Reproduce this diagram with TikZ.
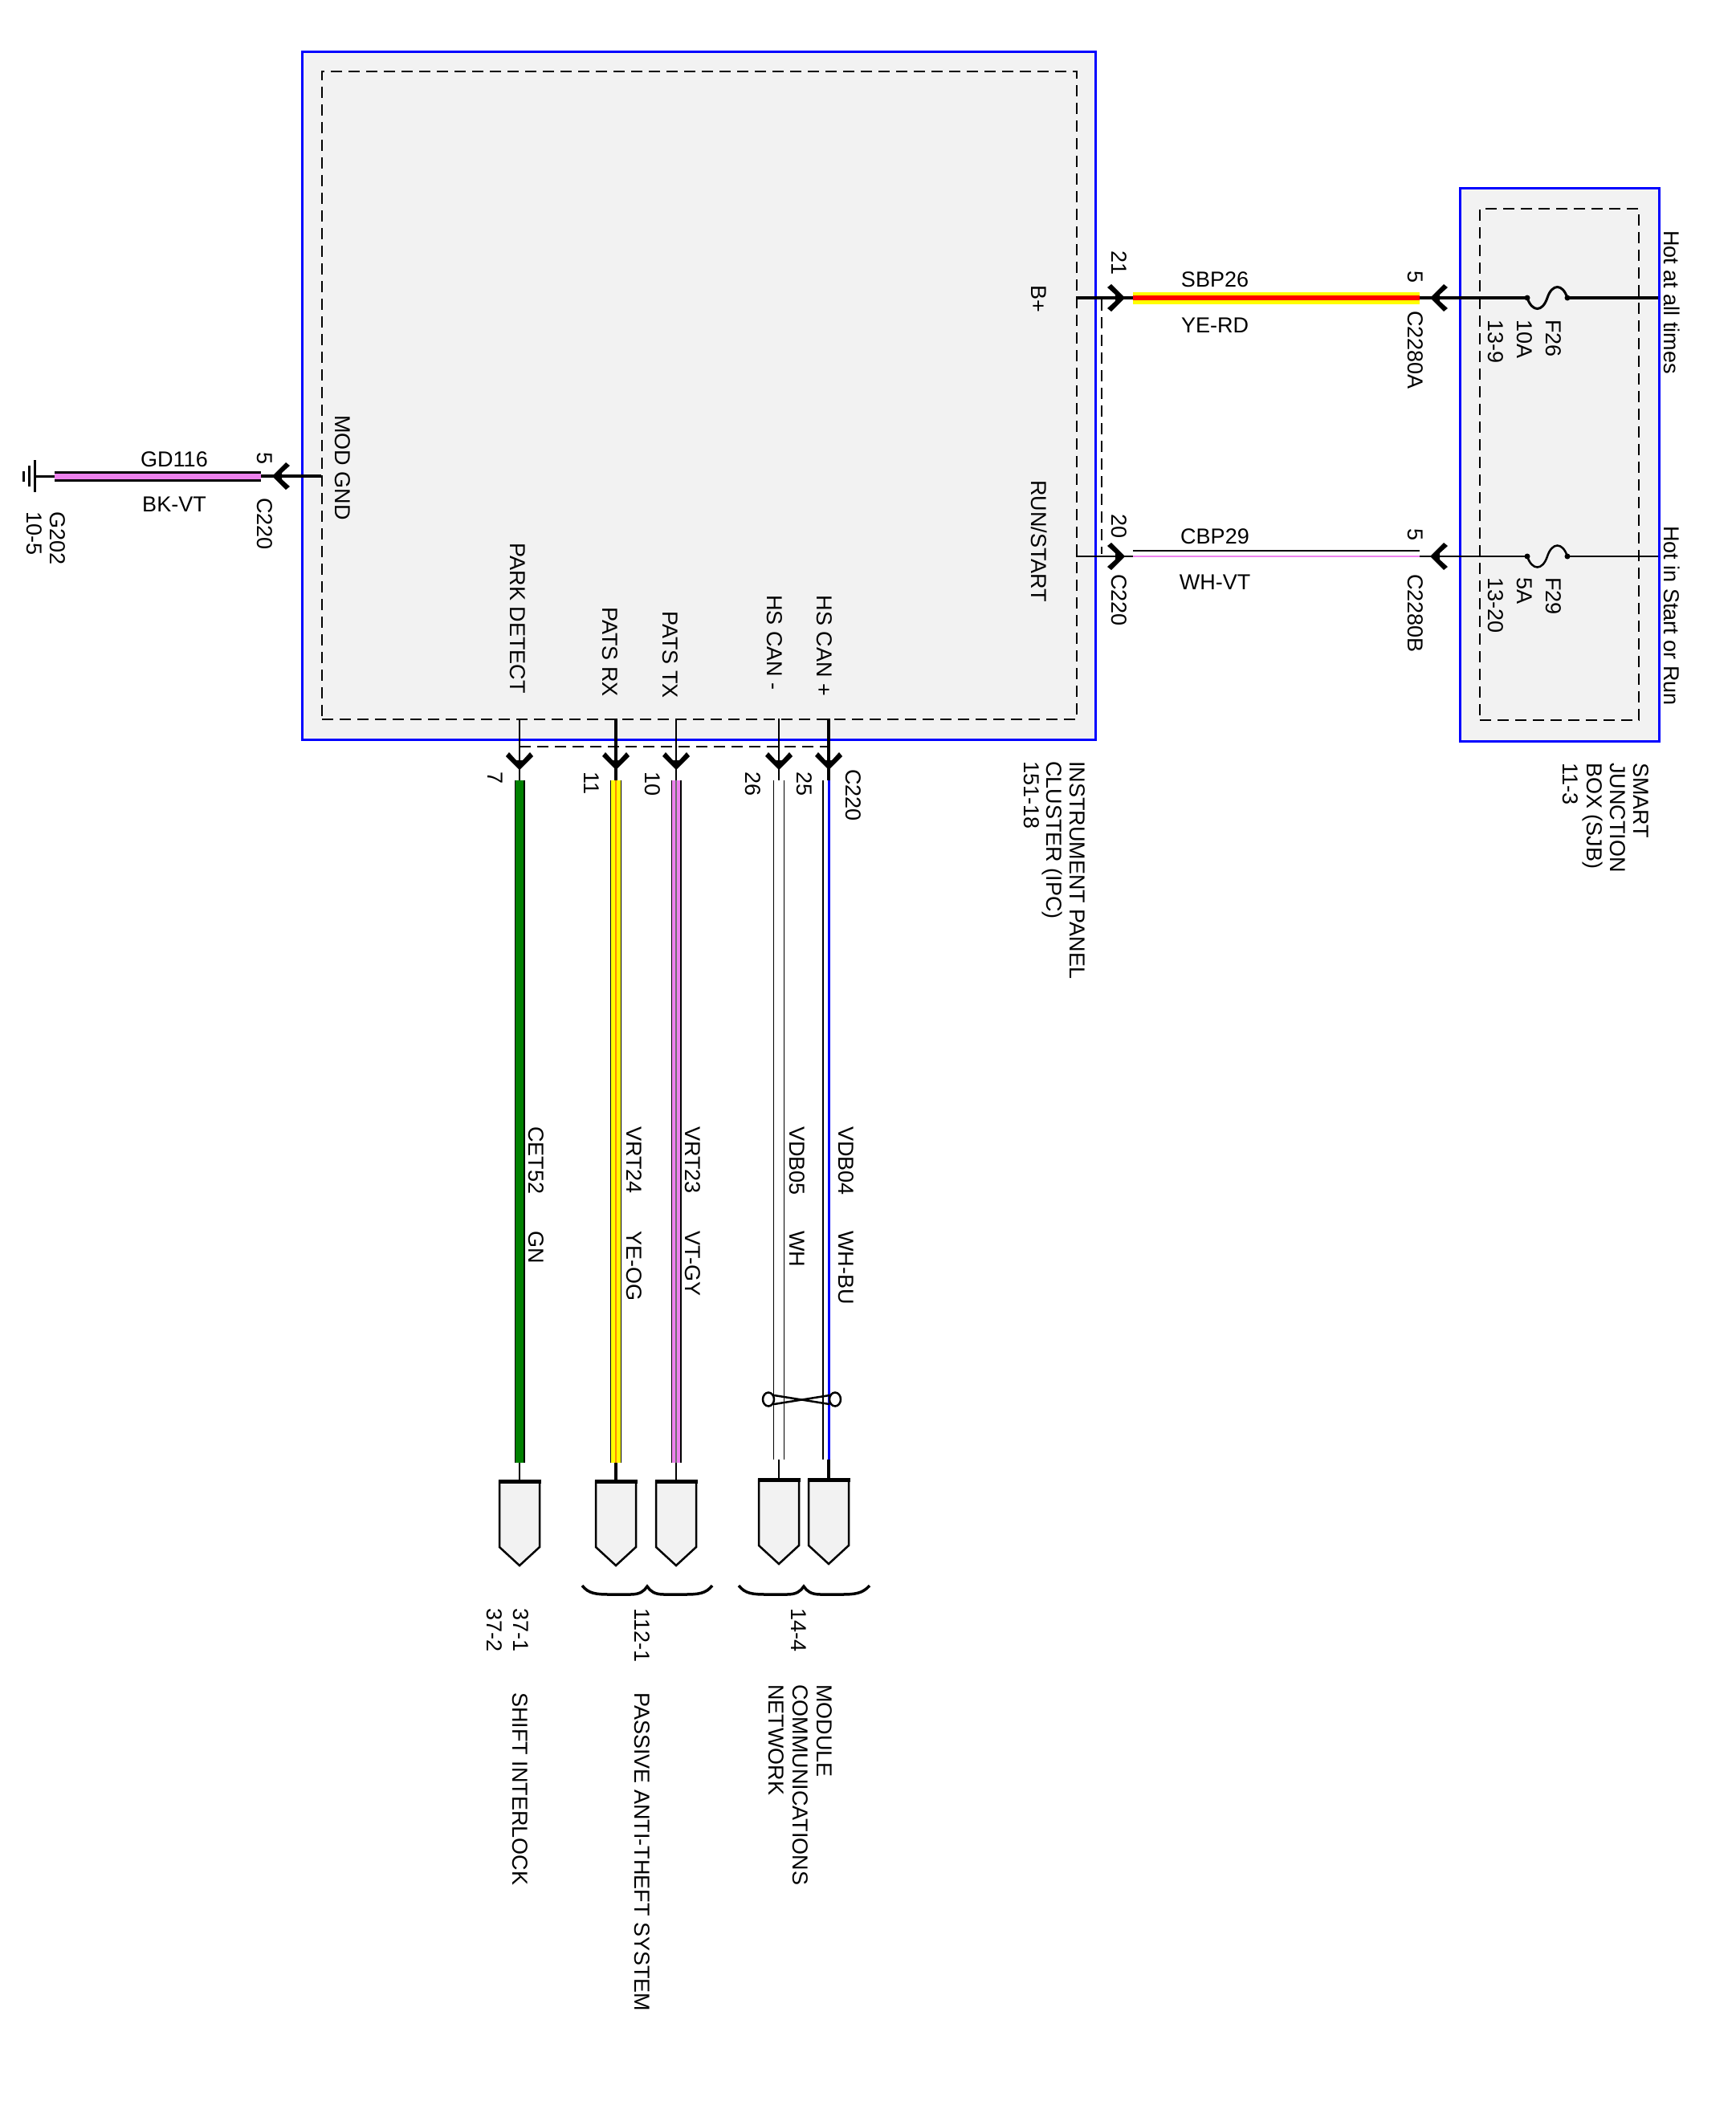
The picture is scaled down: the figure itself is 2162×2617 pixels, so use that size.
\documentclass[tikz,border=0pt]{standalone}
\usepackage{fontspec}
\setmainfont{Liberation Sans}
\definecolor{boxgray}{HTML}{F2F2F2}
\definecolor{wvt}{HTML}{EE82EE}
\definecolor{wgn}{HTML}{008000}
\definecolor{wye}{HTML}{FFFF00}
\definecolor{wrd}{HTML}{FF0000}
\definecolor{wog}{HTML}{FF8C00}
\definecolor{wbu}{HTML}{0000FF}
\definecolor{wgy}{HTML}{707070}
\begin{document}
\begin{tikzpicture}[x=1pt,y=-1pt,
  lbl/.style={font=\fontsize{27}{29}\selectfont, inner sep=0pt},
  vlbl/.style={lbl, rotate=-90, anchor=west},
  plbl/.style={lbl, rotate=-90, anchor=east},
  compbox/.style={draw=wbu, line width=3pt, fill=boxgray, inner sep=0pt, anchor=north west},
  dashframe/.style={draw=black, line width=2pt, dash pattern=on 14pt off 8pt, inner sep=0pt, anchor=north west},
  dashline/.style={draw=black, line width=2pt, dash pattern=on 14pt off 8pt},
  thinw/.style={line width=2pt},
  thickw/.style={line width=4pt},
  conarrow/.pic={\fill (4,0) -- (-13,-17) -- (-18,-13) -- (-8,-4) -- (-8,4) -- (-18,13) -- (-13,17) -- cycle;},
  plug/.pic={\draw[line width=2.5pt, fill=boxgray] (-25,0) -- (25,0) -- (25,82) -- (0,105) -- (-25,82) -- cycle;
             \draw[line width=5pt] (-26.5,0) -- (26.5,0);}
]
\useasboundingbox (0,0) rectangle (2162,2617);

% ---------- components ----------
\node[compbox, minimum width=988pt, minimum height=857pt] (ipc) at (375,63) {};
\node[dashframe, minimum width=940pt, minimum height=807pt] (ipcin) at (400,88) {};
\node[compbox, minimum width=248pt, minimum height=689pt] (sjb) at (1817,233) {};
\node[dashframe, minimum width=198pt, minimum height=637pt] (sjbin) at (1842,259) {};

% ---------- ground circuit ----------
\coordinate (gnd) at (43,593);
\coordinate (gw1) at (68,593);
\coordinate (gw2) at (325,593);
\coordinate (garr) at (343,593);
\coordinate (gpin) at (400,593);
\draw[line width=3pt] (43,573) -- (43,613) (36,580) -- (36,606) (29,587) -- (29,600);
\draw[line width=3pt] (gnd) -- (gw1);
\draw[line width=13pt] (gw1) -- (gw2);
\draw[line width=7pt, wvt] (gw1) -- (gw2);
\draw[line width=3.5pt] (gw2) -- (gpin);
\pic[rotate=180] at (garr) {conarrow};

% ---------- B+ circuit ----------
\coordinate (bp) at (1340,371);
\coordinate (bparr) at (1397,371);
\coordinate (w1s) at (1411,371);
\coordinate (w1e) at (1768,371);
\coordinate (s1arr) at (1785,371);
\coordinate (f1a) at (1902,371);
\coordinate (f1m) at (1927,371);
\coordinate (f1b) at (1952,371);
\coordinate (s1) at (2065,371);
\draw[thickw] (bp) -- (w1s);
\draw[line width=15pt, wye] (w1s) -- (w1e);
\draw[line width=6pt, wrd] (w1s) -- (w1e);
\draw[thickw] (w1e) -- (f1a);
\draw[line width=3pt] (f1a) .. controls (1908,389) and (1921,389) .. (f1m) .. controls (1933,353) and (1946,353) .. (f1b);
\fill (f1a) circle[radius=3.5pt] (f1b) circle[radius=3.5pt];
\draw[thickw] (f1b) -- (s1);
\pic at (bparr) {conarrow};
\pic[rotate=180] at (s1arr) {conarrow};

% ---------- RUN/START circuit ----------
\coordinate (rs) at (1340,693);
\coordinate (rsarr) at (1397,693);
\coordinate (w2s) at (1411,693);
\coordinate (w2e) at (1768,693);
\coordinate (s2arr) at (1785,693);
\coordinate (f2a) at (1902,693);
\coordinate (f2m) at (1927,693);
\coordinate (f2b) at (1952,693);
\coordinate (s2) at (2065,693);
\draw[thinw] (rs) -- (w2s);
\draw[line width=2pt] (1411,686) -- (1768,686);
\draw[line width=2.5pt, wvt] (w2s) -- (w2e);
\draw[thinw] (w2e) -- (f2a);
\draw[line width=2.5pt] (f2a) .. controls (1908,711) and (1921,711) .. (f2m) .. controls (1933,675) and (1946,675) .. (f2b);
\fill (f2a) circle[radius=3.5pt] (f2b) circle[radius=3.5pt];
\draw[thinw] (f2b) -- (s2);
\pic at (rsarr) {conarrow};
\pic[rotate=180] at (s2arr) {conarrow};

% C220 connector outline (right side and bottom)
\draw[dashline] (1372,373) -- (1372,690);
\draw[dashline] (647,930) -- (1034,930);

% ---------- pin 7 : PARK DETECT ----------
\coordinate (p7a) at (647,895);
\coordinate (p7b) at (647,972);
\coordinate (p7c) at (647,1822);
\coordinate (p7d) at (647,1845);
\draw[thinw] (p7a) -- (p7b);
\pic[rotate=-90] at (647,955) {conarrow};
\draw[line width=13pt] (p7b) -- (p7c);
\draw[line width=10pt, wgn] (p7b) -- (p7c);
\draw[thinw] (p7c) -- (p7d);
\pic at (p7d) {plug};

% ---------- pin 11 : PATS RX ----------
\coordinate (p11a) at (767,895);
\coordinate (p11b) at (767,972);
\coordinate (p11c) at (767,1822);
\coordinate (p11d) at (767,1845);
\draw[thickw] (p11a) -- (p11b);
\pic[rotate=-90] at (767,955) {conarrow};
\draw[line width=14pt] (p11b) -- (p11c);
\draw[line width=11.5pt, wye] (p11b) -- (p11c);
\draw[line width=2pt, wog] (p11b) -- (p11c);
\draw[thickw] (p11c) -- (p11d);
\pic at (p11d) {plug};

% ---------- pin 10 : PATS TX ----------
\coordinate (p10a) at (842,895);
\coordinate (p10b) at (842,972);
\coordinate (p10c) at (842,1822);
\coordinate (p10d) at (842,1845);
\draw[thinw] (p10a) -- (p10b);
\pic[rotate=-90] at (842,955) {conarrow};
\draw[line width=13pt] (p10b) -- (p10c);
\draw[line width=10.5pt, wvt] (p10b) -- (p10c);
\draw[line width=2pt, wgy] (p10b) -- (p10c);
\draw[thinw] (p10c) -- (p10d);
\pic at (p10d) {plug};

% ---------- pin 26 : HS CAN - ----------
\coordinate (p26a) at (970,895);
\coordinate (p26b) at (970,972);
\coordinate (p26c) at (970,1818);
\coordinate (p26d) at (970,1843);
\draw[thinw] (p26a) -- (p26b);
\pic[rotate=-90] at (970,955) {conarrow};
\draw[line width=14pt] (p26b) -- (p26c);
\draw[line width=11.5pt, white] (p26b) -- (p26c);
\draw[thinw] (p26c) -- (p26d);
\pic at (p26d) {plug};

% ---------- pin 25 : HS CAN + ----------
\coordinate (p25a) at (1032,895);
\coordinate (p25b) at (1032,972);
\coordinate (p25c) at (1032,1818);
\coordinate (p25d) at (1032,1843);
\draw[thickw] (p25a) -- (p25b);
\pic[rotate=-90] at (1032,955) {conarrow};
\draw[line width=2pt] (1025,972) -- (1025,1818);
\draw[line width=3pt, wbu] (p25b) -- (p25c);
\draw[thickw] (p25c) -- (p25d);
\pic at (p25d) {plug};

% twisted pair symbol
\draw[line width=2.5pt] (957,1743) ellipse[x radius=7pt, y radius=8.5pt];
\draw[line width=2.5pt] (1040,1743) ellipse[x radius=7pt, y radius=8.5pt];
\draw[line width=2.5pt] (964,1738) -- (1033,1749) (964,1749) -- (1033,1738);

% braces
\draw[line width=3.5pt] (725,1975) .. controls (733,1985) and (742,1986) .. (760,1986) -- (785,1986)
  .. controls (797,1986) and (802,1982) .. (806,1976) .. controls (810,1982) and (815,1986) .. (827,1986)
  -- (852,1986) .. controls (870,1986) and (879,1985) .. (887,1975);
\draw[line width=3.5pt] (920,1975) .. controls (928,1985) and (937,1986) .. (955,1986) -- (980,1986)
  .. controls (992,1986) and (997,1982) .. (1001,1976) .. controls (1005,1982) and (1010,1986) .. (1022,1986)
  -- (1047,1986) .. controls (1065,1986) and (1074,1985) .. (1083,1975);

% ---------- labels ----------
\node[lbl] (gd116) at (217,572) {GD116};
\node[lbl] (bkvt) at (217,628) {BK-VT};
\node[vlbl] (g5) at (330,563) {5};
\node[vlbl] (gc220) at (330,620) {C220};
\node[vlbl, align=left, font=\fontsize{27}{29}\selectfont] (g202) at (57,637) {G202\\10-5};
\node[vlbl] (modgnd) at (427,517) {MOD GND};
\node[vlbl] (bplus) at (1294,355) {B+};
\node[vlbl] (runstart) at (1294,598) {RUN/START};
\node[vlbl] (n21) at (1394,312) {21};
\node[vlbl] (n20) at (1394,640) {20};
\node[vlbl] (c220r) at (1394,715) {C220};
\node[lbl] (sbp26) at (1513,348) {SBP26};
\node[lbl] (yerd) at (1513,405) {YE-RD};
\node[lbl] (cbp29) at (1513,668) {CBP29};
\node[lbl] (whvt) at (1513,725) {WH-VT};
\node[vlbl] (s5a) at (1763,337) {5};
\node[vlbl] (c2280a) at (1763,387) {C2280A};
\node[vlbl] (s5b) at (1763,658) {5};
\node[vlbl] (c2280b) at (1763,715) {C2280B};
\node[vlbl, align=left, font=\fontsize{27}{36}\selectfont] (f26) at (1899,398) {F26\\10A\\13-9};
\node[vlbl, align=left, font=\fontsize{27}{36}\selectfont] (f29) at (1899,719) {F29\\5A\\13-20};
\node[vlbl] (hot1) at (2082,287) {Hot at all times};
\node[vlbl] (hot2) at (2082,655) {Hot in Start or Run};
\node[vlbl, align=left, font=\fontsize{27}{28.5}\selectfont] (ipcname) at (1313,948) {INSTRUMENT PANEL\\CLUSTER (IPC)\\151-18};
\node[vlbl, align=left, font=\fontsize{27}{29.3}\selectfont] (sjbname) at (2000,950) {SMART\\JUNCTION\\BOX (SJB)\\11-3};

\node[plbl] (lpark) at (645,864) {PARK DETECT};
\node[plbl] (lrx) at (760,868) {PATS RX};
\node[plbl] (ltx) at (835,870) {PATS TX};
\node[plbl] (lcanm) at (965,860) {HS CAN -};
\node[plbl] (lcanp) at (1027,867) {HS CAN +};

\node[vlbl] (n7) at (617,961) {7};
\node[vlbl] (n11) at (737,961) {11};
\node[vlbl] (n10) at (813,961) {10};
\node[vlbl] (n26) at (938,961) {26};
\node[vlbl] (n25) at (1002,961) {25};
\node[vlbl] (c220b) at (1063,958) {C220};

\node[vlbl] (cet52) at (668,1403) {CET52};
\node[vlbl] (gn) at (668,1533) {GN};
\node[vlbl] (vrt24) at (790,1403) {VRT24};
\node[vlbl] (yeog) at (790,1533) {YE-OG};
\node[vlbl] (vrt23) at (863,1403) {VRT23};
\node[vlbl] (vtgy) at (863,1533) {VT-GY};
\node[vlbl] (vdb05) at (993,1403) {VDB05};
\node[vlbl] (wh) at (993,1533) {WH};
\node[vlbl] (vdb04) at (1054,1403) {VDB04};
\node[vlbl] (whbu) at (1054,1533) {WH-BU};

\node[vlbl, align=left, font=\fontsize{27}{33}\selectfont] (d37) at (632,2003) {37-1\\37-2};
\node[vlbl] (d112) at (800,2003) {112-1};
\node[vlbl] (d144) at (995,2003) {14-4};
\node[vlbl] (shift) at (648,2108) {SHIFT INTERLOCK};
\node[vlbl] (pats) at (800,2108) {PASSIVE ANTI-THEFT SYSTEM};
\node[vlbl, align=left, font=\fontsize{27}{30}\selectfont] (mcn) at (997,2098) {MODULE\\COMMUNICATIONS\\NETWORK};
\end{tikzpicture}
\end{document}
